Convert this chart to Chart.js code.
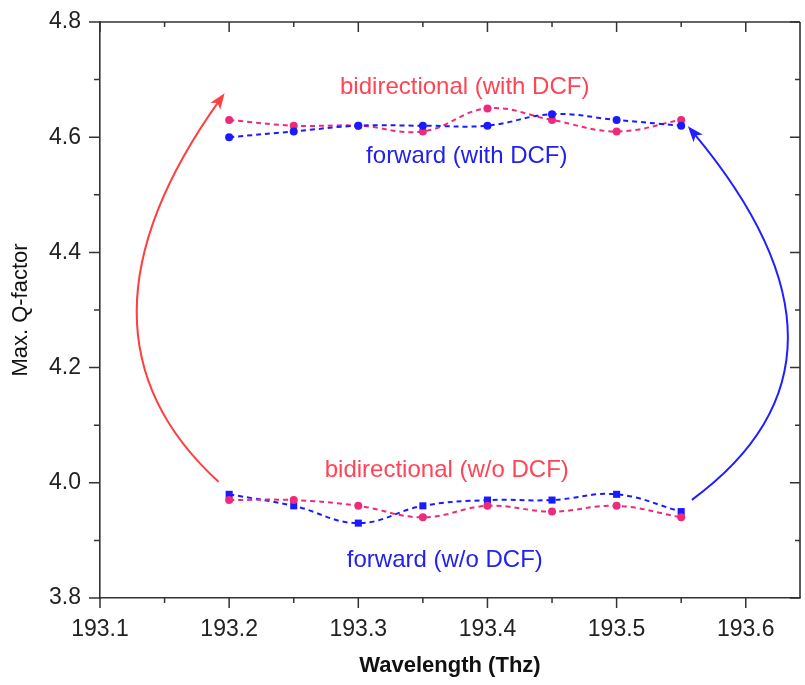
<!DOCTYPE html>
<html>
<head>
<meta charset="utf-8">
<script src="https://cdn.jsdelivr.net/npm/chart.js@4.4.1/dist/chart.umd.min.js"></script>
<style>
  html, body { margin: 0; padding: 0; background: #fff; }
  #wrap { width: 805px; height: 685px; }
</style>
</head>
<body>
<div id="wrap"><canvas id="myChart" width="805" height="685"></canvas></div>
<script>
// wavelength (THz)
const wavelengths = [193.2, 193.25, 193.3, 193.35, 193.4, 193.45, 193.5, 193.55];

const bidirWithDcf = [4.63, 4.62, 4.62, 4.61, 4.65, 4.63, 4.61, 4.63];
const forwardWithDcf = [4.60, 4.61, 4.62, 4.62, 4.62, 4.64, 4.63, 4.62];
const bidirNoDcf = [3.97, 3.97, 3.96, 3.94, 3.96, 3.95, 3.96, 3.94];
const forwardNoDcf = [3.98, 3.96, 3.93, 3.96, 3.97, 3.97, 3.98, 3.95];

const xTicks = [193.1, 193.2, 193.3, 193.4, 193.5, 193.6];
const yTicks = [3.8, 4.0, 4.2, 4.4, 4.6, 4.8];

const pink = '#ee2a7b';
const blue = '#1a1aff';
const fontFam = '"Liberation Sans", Arial, sans-serif';

// text notes and arrows, in data units
const notes = [
    { text: 'bidirectional (with DCF)', x: 193.3824, y: 4.6748, color: '#ff4455' },
    { text: 'forward (with DCF)', x: 193.384, y: 4.5548, color: '#2222ee' },
    { text: 'bidirectional (w/o DCF)', x: 193.3685, y: 4.0104, color: '#ff4455' },
    { text: 'forward (w/o DCF)', x: 193.3670, y: 3.8539, color: '#2222ee' }
];
const arrows = [
    { color: '#ff4040', pts: [[193.1918, 4.0017], [193.0645, 4.2626], [193.1965, 4.6765]] },
    { color: '#2020ff', pts: [[193.5583, 3.9704], [193.7065, 4.2139], [193.5552, 4.6191]] }
];

function series(vals) {
    return vals.map((v, i) => ({ x: wavelengths[i], y: v }));
}

function lineSet(label, vals, color, style, r) {
    return {
        label: label,
        data: series(vals),
        borderColor: color,
        backgroundColor: color,
        borderWidth: 2,
        borderDash: [5, 4],
        tension: 0.4,
        pointStyle: style,
        pointRadius: r,
        pointBorderWidth: 0
    };
}

const frame = {
    id: 'frame',
    afterDraw(chart) {
        const c = chart.ctx, a = chart.chartArea;
        const xs = chart.scales.x, ys = chart.scales.y;
        c.save();
        c.strokeStyle = '#333';
        c.lineWidth = 1.6;
        c.beginPath();
        c.moveTo(a.left, a.top); c.lineTo(a.right, a.top);
        c.moveTo(a.right, a.top); c.lineTo(a.right, a.bottom);
        c.stroke();
        c.lineWidth = 1.5;
        c.beginPath();
        const xMinor = xTicks.slice(0, -1).map((v, i) => (v + xTicks[i + 1]) / 2);
        const yMinor = yTicks.slice(0, -1).map((v, i) => (v + yTicks[i + 1]) / 2);
        xTicks.forEach(v => {
            const p = xs.getPixelForValue(v);
            c.moveTo(p, a.bottom); c.lineTo(p, a.bottom + 10);
            c.moveTo(p, a.top); c.lineTo(p, a.top + 10);
        });
        xMinor.forEach(v => {
            const p = xs.getPixelForValue(v);
            c.moveTo(p, a.bottom); c.lineTo(p, a.bottom + 5);
            c.moveTo(p, a.top); c.lineTo(p, a.top + 5);
        });
        yTicks.forEach(v => {
            const p = ys.getPixelForValue(v);
            c.moveTo(a.left, p); c.lineTo(a.left - 11, p);
            c.moveTo(a.right, p); c.lineTo(a.right - 10, p);
        });
        yMinor.forEach(v => {
            const p = ys.getPixelForValue(v);
            c.moveTo(a.left, p); c.lineTo(a.left - 6, p);
            c.moveTo(a.right, p); c.lineTo(a.right - 5, p);
        });
        c.stroke();
        c.restore();
    },
    afterDatasetsDraw(chart) {
        const c = chart.ctx;
        const xs = chart.scales.x, ys = chart.scales.y;
        c.save();
        c.font = '24px ' + fontFam;
        c.textAlign = 'center';
        c.textBaseline = 'alphabetic';
        notes.forEach(n => {
            c.fillStyle = n.color;
            c.fillText(n.text, xs.getPixelForValue(n.x), ys.getPixelForValue(n.y));
        });
        arrows.forEach(ar => {
            const p = ar.pts.map(q => [xs.getPixelForValue(q[0]), ys.getPixelForValue(q[1])]);
            c.strokeStyle = ar.color;
            c.fillStyle = ar.color;
            c.lineWidth = 2;
            // stop the line a little before the tip so the head stays sharp
            const dx = p[2][0] - p[1][0], dy = p[2][1] - p[1][1];
            const len = Math.hypot(dx, dy), ux = dx / len, uy = dy / len;
            c.beginPath();
            c.moveTo(p[0][0], p[0][1]);
            c.quadraticCurveTo(p[1][0], p[1][1], p[2][0] - ux * 8, p[2][1] - uy * 8);
            c.stroke();
            const hl = 16, hw = 6;
            const bx = p[2][0] - ux * hl, by = p[2][1] - uy * hl;
            c.beginPath();
            c.moveTo(p[2][0], p[2][1]);
            c.lineTo(bx - uy * hw, by + ux * hw);
            c.lineTo(p[2][0] - ux * (hl - 4), p[2][1] - uy * (hl - 4));
            c.lineTo(bx + uy * hw, by - ux * hw);
            c.closePath();
            c.fill();
        });
        c.restore();
    }
};

const getChart = document.getElementById('myChart').getContext('2d');
const mychart = new Chart(getChart, {
    type: 'line',
    data: {
        datasets: [
            lineSet('forward (with DCF)', forwardWithDcf, blue, 'circle', 4),
            lineSet('bidirectional (with DCF)', bidirWithDcf, pink, 'circle', 4),
            lineSet('bidirectional (w/o DCF)', bidirNoDcf, pink, 'circle', 4),
            lineSet('forward (w/o DCF)', forwardNoDcf, blue, 'rect', 5)
        ]
    },
    options: {
        responsive: false,
        animation: false,
        layout: { padding: { top: 22, right: 2, left: 0, bottom: 0 } },
        scales: {
            x: {
                type: 'linear',
                min: 193.1,
                max: 193.642,
                afterBuildTicks: s => { s.ticks = xTicks.map(v => ({ value: v })); },
                afterFit: s => { s.height = 87; },
                grid: { drawOnChartArea: false, tickLength: 10, tickColor: 'rgba(0,0,0,0)' },
                border: { color: '#333', width: 1.6 },
                ticks: {
                    color: '#222',
                    padding: 8,
                    maxRotation: 0,
                    autoSkip: false,
                    font: { family: fontFam, size: 23 },
                    callback: v => v.toFixed(1)
                },
                title: {
                    display: true,
                    text: 'Wavelength (Thz)',
                    color: '#111',
                    font: { family: fontFam, size: 22, weight: 'bold' },
                    padding: { top: 0, bottom: 6 }
                }
            },
            y: {
                min: 3.8,
                max: 4.8,
                afterBuildTicks: s => { s.ticks = yTicks.map(v => ({ value: v })); },
                afterFit: s => { s.width = 100; },
                grid: { drawOnChartArea: false, tickLength: 11, tickColor: 'rgba(0,0,0,0)' },
                border: { color: '#333', width: 1.6 },
                ticks: {
                    color: '#222',
                    padding: 8,
                    font: { family: fontFam, size: 23 },
                    callback: v => v.toFixed(1)
                },
                title: {
                    display: true,
                    text: 'Max. Q-factor',
                    color: '#111',
                    font: { family: fontFam, size: 22 },
                    padding: { top: 8, bottom: 0 }
                }
            }
        },
        plugins: {
            legend: { display: false },
            tooltip: { enabled: false }
        }
    },
    plugins: [frame]
});
</script>
</body>
</html>
